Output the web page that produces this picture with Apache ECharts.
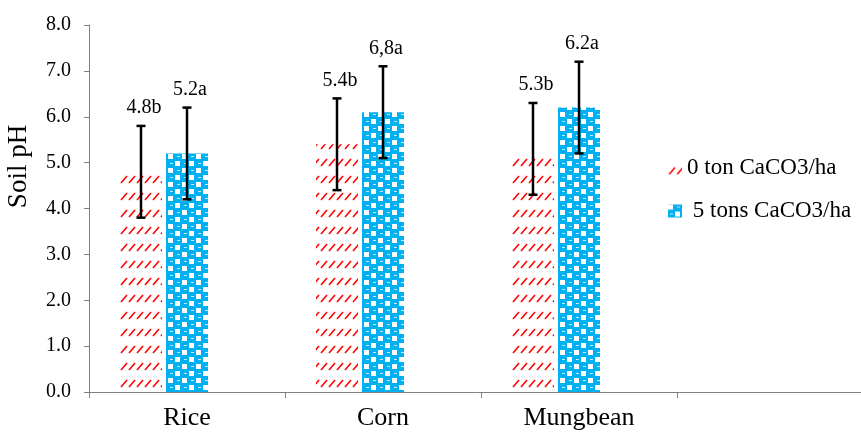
<!DOCTYPE html>
<html>
<head>
<meta charset="utf-8">
<script src="https://cdn.jsdelivr.net/npm/echarts@6/dist/echarts.min.js"></script>
<style>
  html, body { margin: 0; padding: 0; background: #ffffff; }
  #chart { width: 861px; height: 435px; }
</style>
</head>
<body>
<div id="chart"></div>
<script>
// data
var crops = ['Rice', 'Corn', 'Mungbean', ''];
var seriesNames = ['0 ton CaCO3/ha', ' 5 tons CaCO3/ha'];
var ph0 = [4.8, 5.4, 5.15];
var ph5 = [5.2, 6.1, 6.2];
var low0 = [3.8, 4.4, 4.3];
var high0 = [5.8, 6.4, 6.3];
var low5 = [4.2, 5.1, 5.2];
var high5 = [6.2, 7.1, 7.2];
var labels0 = ['4.8b', '5.4b', '5.3b'];
var labels5 = ['5.2a', '6,8a', '6.2a'];

var FONT = 'Liberation Serif';
var BAR_W = 42;
var BAR_GAP = 4;

// red hatch fill
function hatchPattern() {
  var c = document.createElement('canvas');
  c.width = 8; c.height = 17;
  var ctx = c.getContext('2d');
  ctx.fillStyle = '#ffffff';
  ctx.fillRect(0, 0, 8, 17);
  ctx.strokeStyle = '#ff0000';
  ctx.lineWidth = 1.6;
  ctx.beginPath();
  ctx.moveTo(1, 13);
  ctx.lineTo(7, 6);
  ctx.stroke();
  return c;
}

// blue checker fill
function checkerPattern() {
  var c = document.createElement('canvas');
  c.width = 14; c.height = 14;
  var ctx = c.getContext('2d');
  ctx.fillStyle = '#00b0f0';
  ctx.fillRect(0, 0, 14, 14);
  ctx.fillStyle = '#ffffff';
  ctx.fillRect(0, 0, 5, 5);
  ctx.fillRect(7, 7, 5, 5);
  ctx.fillStyle = '#bfeafa';
  ctx.fillRect(9, 2, 3, 1);
  ctx.fillRect(2, 9, 3, 1);
  return c;
}

var fill0 = { image: hatchPattern(), repeat: 'repeat' };
var fill5 = { image: checkerPattern(), repeat: 'repeat' };

function errorBars(lows, highs, texts, shift) {
  return {
    type: 'custom',
    silent: true,
    z: 5,
    data: lows.map(function (l, i) { return [i, l, highs[i]]; }),
    renderItem: function (params, api) {
      var i = api.value(0);
      var lo = api.coord([i, api.value(1)]);
      var hi = api.coord([i, api.value(2)]);
      var x = lo[0] + shift;
      var cap = 4.5;
      var st = { stroke: '#000000', lineWidth: 2.5 };
      return {
        type: 'group',
        children: [
          { type: 'line', shape: { x1: x, y1: lo[1], x2: x, y2: hi[1] }, style: st },
          { type: 'line', shape: { x1: x - cap, y1: lo[1], x2: x + cap, y2: lo[1] }, style: st },
          { type: 'line', shape: { x1: x - cap, y1: hi[1], x2: x + cap, y2: hi[1] }, style: st },
          {
            type: 'text',
            style: {
              text: texts[i],
              x: x + 3,
              y: hi[1] - 18,
              align: 'center',
              verticalAlign: 'middle',
              font: '20px "' + FONT + '"',
              fill: '#000000'
            }
          }
        ]
      };
    }
  };
}

var chart = echarts.init(document.getElementById('chart'), null, { renderer: 'canvas' });

var option = {
  backgroundColor: '#ffffff',
  animation: false,
  grid: { left: 89, right: -12, top: 25, bottom: 43, containLabel: false, outerBoundsMode: 'none' },
  legend: {
    data: seriesNames,
    orient: 'vertical',
    left: 663,
    top: 151,
    itemWidth: 14,
    itemHeight: 13,
    itemGap: 19,
    icon: 'rect',
    textStyle: { fontFamily: FONT, fontSize: 23, color: '#000000', lineHeight: 24 }
  },
  xAxis: {
    type: 'category',
    data: crops,
    axisLine: { lineStyle: { color: '#808080', width: 1 } },
    axisTick: { show: true, length: 6, lineStyle: { color: '#808080' } },
    axisLabel: { fontFamily: FONT, fontSize: 26, color: '#000000', margin: 13 }
  },
  yAxis: {
    type: 'value',
    min: 0,
    max: 8,
    interval: 1,
    name: 'Soil pH',
    nameLocation: 'middle',
    nameGap: 57,
    nameTextStyle: { fontFamily: FONT, fontSize: 27, color: '#000000', padding: [0, 0, 0, 84] },
    axisLine: { show: true, lineStyle: { color: '#808080', width: 1 } },
    axisTick: { show: true, length: 5, lineStyle: { color: '#808080' } },
    splitLine: { show: false },
    axisLabel: {
      fontFamily: FONT, fontSize: 20, color: '#000000', margin: 18,
      formatter: function (v) { return v.toFixed(1); }
    }
  },
  series: [
    {
      name: seriesNames[0],
      type: 'bar',
      data: ph0,
      barWidth: BAR_W,
      barGap: (BAR_GAP / BAR_W * 100) + '%',
      itemStyle: { color: fill0 }
    },
    {
      name: seriesNames[1],
      type: 'bar',
      data: ph5,
      barWidth: BAR_W,
      itemStyle: { color: fill5 }
    },
    {
      name: 'spacer',
      type: 'bar',
      data: [],
      barWidth: BAR_W
    },
    errorBars(low0, high0, labels0, -(BAR_W + BAR_GAP)),
    errorBars(low5, high5, labels5, 0)
  ]
};

chart.setOption(option);
</script>
</body>
</html>
